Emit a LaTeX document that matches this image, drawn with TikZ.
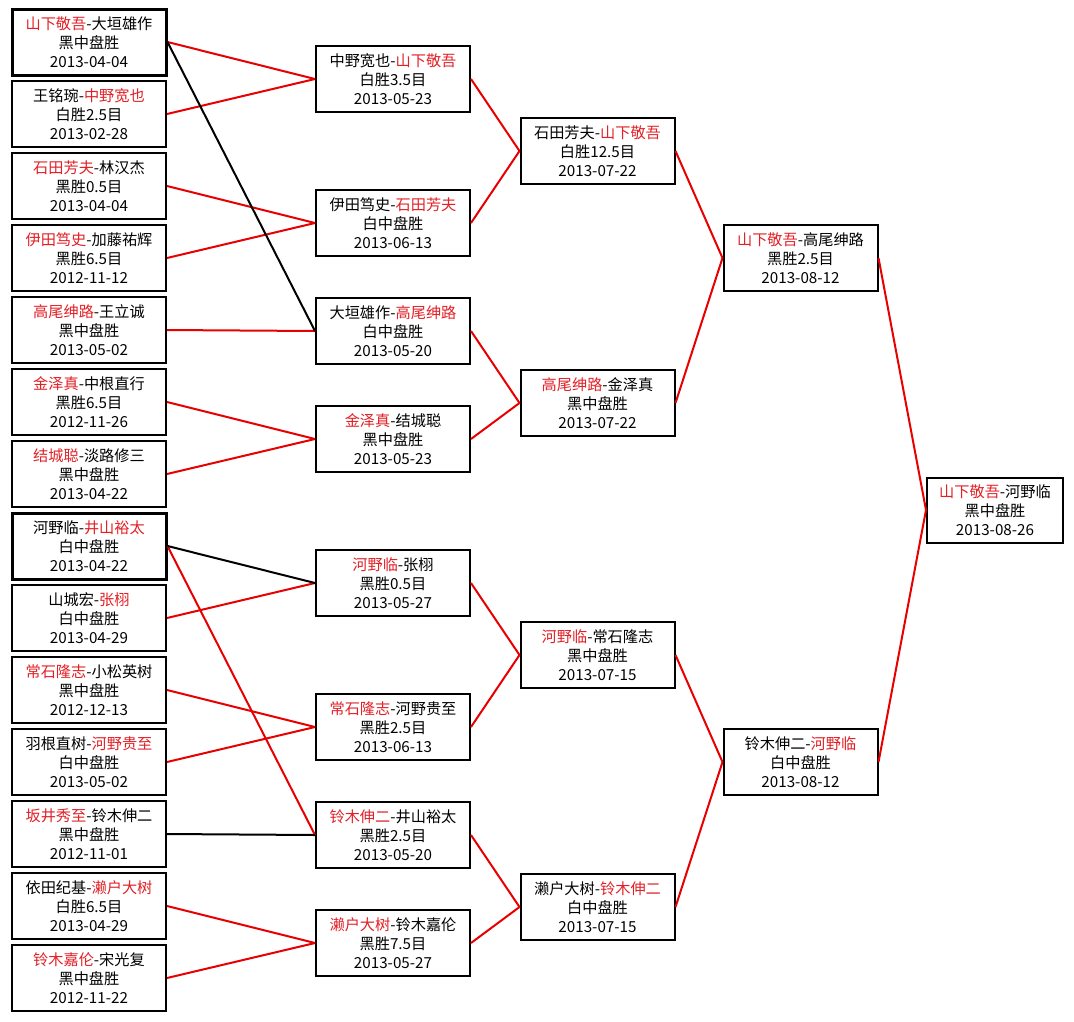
\documentclass[tikz,border=0pt]{standalone}
\usepackage{fontspec}
\setmainfont{Noto Sans CJK SC}
\usepackage{xcolor}
\definecolor{win}{RGB}{226,32,38}
\definecolor{link}{RGB}{232,0,0}

\begin{document}
\begin{tikzpicture}[
      x=1pt, y=-1pt,
      game/.style={rectangle, draw=black, line width=2pt, fill=white,
                   minimum width=154pt, minimum height=66pt, inner sep=0pt,
                   font=\fontsize{15.2}{19}\selectfont, align=center},
      seed/.style={game, line width=3pt},
      up/.style={draw=link, line width=2pt},
      down/.style={draw=black, line width=2pt}
    ]
    \useasboundingbox (0,0) rectangle (1074,1021);
    \node[seed] (p1)  at (89,42)  {\textcolor{win}{山下敬吾}-大垣雄作\\黑中盘胜\\2013-04-04};
    \node[game] (p2)  at (89,114) {王铭琬-\textcolor{win}{中野宽也}\\白胜2.5目\\2013-02-28};
    \node[game] (p3)  at (89,186) {\textcolor{win}{石田芳夫}-林汉杰\\黑胜0.5目\\2013-04-04};
    \node[game] (p4)  at (89,258) {\textcolor{win}{伊田笃史}-加藤祐辉\\黑胜6.5目\\2012-11-12};
    \node[game] (p5)  at (89,330) {\textcolor{win}{高尾绅路}-王立诚\\黑中盘胜\\2013-05-02};
    \node[game] (p6)  at (89,402) {\textcolor{win}{金泽真}-中根直行\\黑胜6.5目\\2012-11-26};
    \node[game] (p7)  at (89,474) {\textcolor{win}{结城聪}-淡路修三\\黑中盘胜\\2013-04-22};
    \node[seed] (p8)  at (89,546) {河野临-\textcolor{win}{井山裕太}\\白中盘胜\\2013-04-22};
    \node[game] (p9)  at (89,618) {山城宏-\textcolor{win}{张栩}\\白中盘胜\\2013-04-29};
    \node[game] (p10) at (89,690) {\textcolor{win}{常石隆志}-小松英树\\黑中盘胜\\2012-12-13};
    \node[game] (p11) at (89,762) {羽根直树-\textcolor{win}{河野贵至}\\白中盘胜\\2013-05-02};
    \node[game] (p12) at (89,834) {\textcolor{win}{坂井秀至}-铃木伸二\\黑中盘胜\\2012-11-01};
    \node[game] (p13) at (89,906) {依田纪基-\textcolor{win}{濑户大树}\\白胜6.5目\\2013-04-29};
    \node[game] (p14) at (89,978) {\textcolor{win}{铃木嘉伦}-宋光复\\黑中盘胜\\2012-11-22};

    \node[game] (q1) at (393,79)  {中野宽也-\textcolor{win}{山下敬吾}\\白胜3.5目\\2013-05-23};
    \node[game] (q2) at (393,223) {伊田笃史-\textcolor{win}{石田芳夫}\\白中盘胜\\2013-06-13};
    \node[game] (q3) at (393,331) {大垣雄作-\textcolor{win}{高尾绅路}\\白中盘胜\\2013-05-20};
    \node[game] (q4) at (393,439) {\textcolor{win}{金泽真}-结城聪\\黑中盘胜\\2013-05-23};
    \node[game] (q5) at (393,583) {\textcolor{win}{河野临}-张栩\\黑胜0.5目\\2013-05-27};
    \node[game] (q6) at (393,727) {\textcolor{win}{常石隆志}-河野贵至\\黑胜2.5目\\2013-06-13};
    \node[game] (q7) at (393,835) {\textcolor{win}{铃木伸二}-井山裕太\\黑胜2.5目\\2013-05-20};
    \node[game] (q8) at (393,943) {\textcolor{win}{濑户大树}-铃木嘉伦\\黑胜7.5目\\2013-05-27};

    \node[game] (s1) at (597.5,151) {石田芳夫-\textcolor{win}{山下敬吾}\\白胜12.5目\\2013-07-22};
    \node[game] (s2) at (597.5,403) {\textcolor{win}{高尾绅路}-金泽真\\黑中盘胜\\2013-07-22};
    \node[game] (s3) at (597.5,655) {\textcolor{win}{河野临}-常石隆志\\黑中盘胜\\2013-07-15};
    \node[game] (s4) at (597.5,907) {濑户大树-\textcolor{win}{铃木伸二}\\白中盘胜\\2013-07-15};

    \node[game] (t1) at (800.5,258) {\textcolor{win}{山下敬吾}-高尾绅路\\黑胜2.5目\\2013-08-12};
    \node[game] (t2) at (800.5,762) {铃木伸二-\textcolor{win}{河野临}\\白中盘胜\\2013-08-12};

    \node[game, minimum width=136pt, minimum height=65pt] (fin) at (995,510) {\textcolor{win}{山下敬吾}-河野临\\黑中盘胜\\2013-08-26};

    \draw[up] (p1.east) -- (q1.west);
    \draw[up] (p2.east) -- (q1.west);
    \draw[up] (p3.east) -- (q2.west);
    \draw[up] (p4.east) -- (q2.west);
    \draw[up] (p5.east) -- (q3.west);
    \draw[up] (p6.east) -- (q4.west);
    \draw[up] (p7.east) -- (q4.west);
    \draw[up] (p8.east) -- (q7.west);
    \draw[up] (p9.east) -- (q5.west);
    \draw[up] (p10.east) -- (q6.west);
    \draw[up] (p11.east) -- (q6.west);
    \draw[up] (p13.east) -- (q8.west);
    \draw[up] (p14.east) -- (q8.west);
    \draw[down] (p1.east) -- (q3.west);
    \draw[down] (p8.east) -- (q5.west);
    \draw[down] (p12.east) -- (q7.west);

    \draw[up] (q1.east) -- (s1.west);
    \draw[up] (q2.east) -- (s1.west);
    \draw[up] (q3.east) -- (s2.west);
    \draw[up] (q4.east) -- (s2.west);
    \draw[up] (q5.east) -- (s3.west);
    \draw[up] (q6.east) -- (s3.west);
    \draw[up] (q7.east) -- (s4.west);
    \draw[up] (q8.east) -- (s4.west);

    \draw[up] (s1.east) -- (t1.west);
    \draw[up] (s2.east) -- (t1.west);
    \draw[up] (s3.east) -- (t2.west);
    \draw[up] (s4.east) -- (t2.west);

    \draw[up] (t1.east) -- (fin.west);
    \draw[up] (t2.east) -- (fin.west);
  \end{tikzpicture}
\end{document}
